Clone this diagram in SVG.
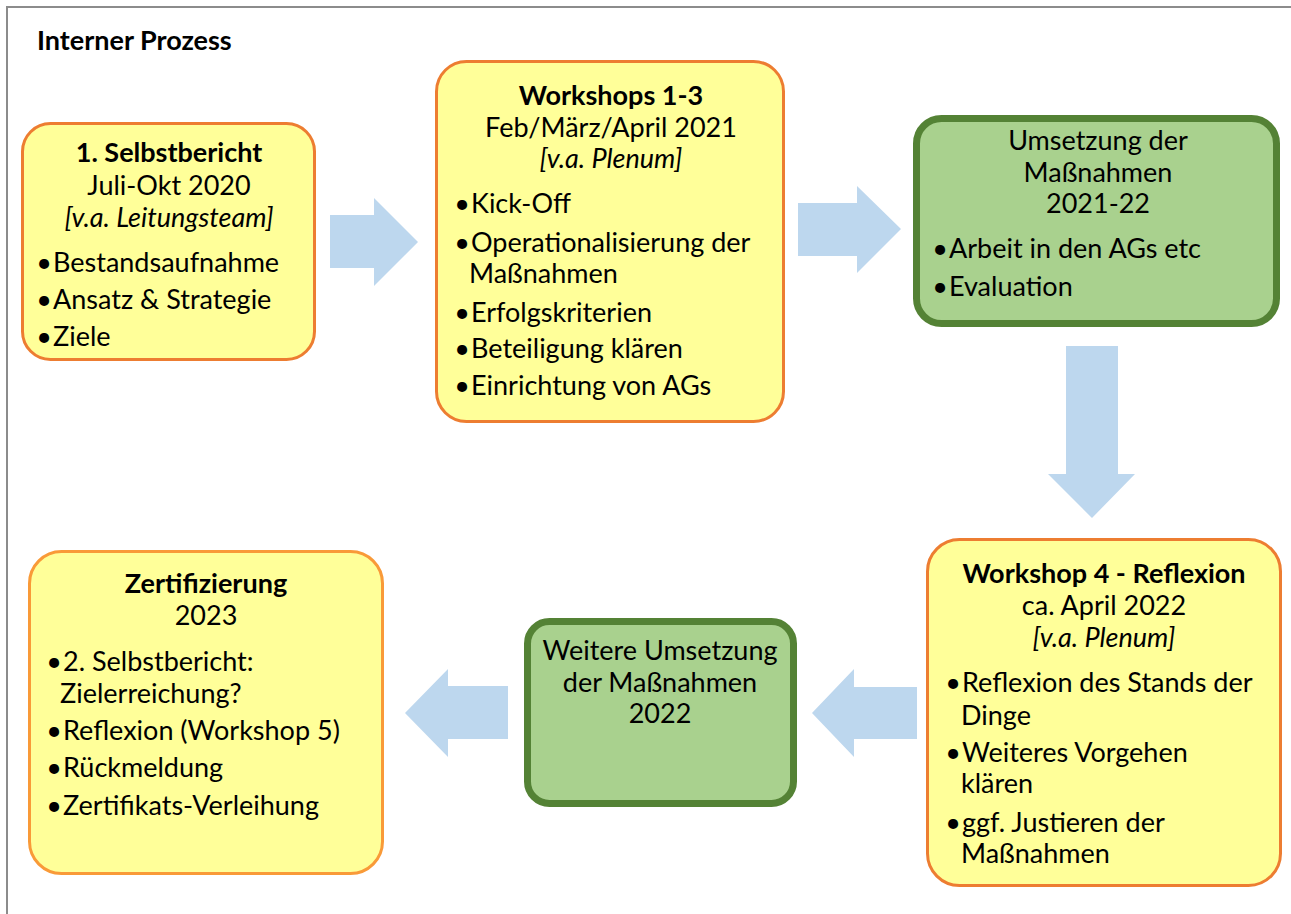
<svg xmlns="http://www.w3.org/2000/svg" width="1291" height="914" viewBox="0 0 1291 914">
<style>
text{font-family:"Lato","Liberation Sans",sans-serif;font-size:27px;fill:#000}
.b{font-weight:bold}
.i{font-style:italic}
.c{text-anchor:middle}
.d{text-anchor:end}
.y{fill:#FFFF99;stroke:#ED7D31;stroke-width:3}
.y2{fill:#FFFF99;stroke:#F99A38;stroke-width:3}
.g{fill:#A9D18E;stroke:#548235;stroke-width:7}
.a{fill:#BDD7EE}
</style>
<rect width="1291" height="914" fill="#fff"/>
<path d="M7,914 V7 H1291" fill="none" stroke="#8C8C8C" stroke-width="2"/>
<text class="b" x="37" y="50">Interner Prozess</text>
<g id="connectors">
<polygon class="a" points="330,215 374,215 374,198 418,242 374,286 374,268 330,268"/>
<polygon class="a" points="798,203 857,203 857,186 901,229 857,273 857,256 798,256"/>
<polygon class="a" points="1066,346 1118,346 1118,474 1135,474 1092,518 1048,474 1066,474"/>
<polygon class="a" points="917,687 854,687 854,669 812,713 854,757 854,739 917,739"/>
<polygon class="a" points="508,686 448,686 448,669 405,713 448,757 448,739 508,739"/>
</g>
<g id="selbstbericht">
<rect class="y" x="22.5" y="123.5" width="292" height="236" rx="28"/>
<text class="b c" x="169" y="162">1. Selbstbericht</text>
<text class="c" x="169" y="195">Juli-Okt 2020</text>
<text class="i c" x="169" y="227">[v.a. Leitungsteam]</text>
<text class="d" x="52" y="272">•</text><text x="53" y="272">Bestandsaufnahme</text>
<text class="d" x="52" y="309">•</text><text x="53" y="309">Ansatz &amp; Strategie</text>
<text class="d" x="52" y="346">•</text><text x="53" y="346">Ziele</text>
</g>
<g id="workshops13">
<rect class="y" x="436.5" y="61.5" width="347" height="360" rx="30"/>
<text class="b c" x="611" y="105">Workshops 1-3</text>
<text class="c" x="611" y="137">Feb/März/April 2021</text>
<text class="i c" x="611" y="168">[v.a. Plenum]</text>
<text class="d" x="470" y="213">•</text><text x="471" y="213">Kick-Off</text>
<text class="d" x="470" y="252">•</text><text x="471" y="252">Operationalisierung der</text>
<text x="469" y="283">Maßnahmen</text>
<text class="d" x="470" y="322">•</text><text x="471" y="322">Erfolgskriterien</text>
<text class="d" x="470" y="358">•</text><text x="471" y="358">Beteiligung klären</text>
<text class="d" x="470" y="395">•</text><text x="471" y="395">Einrichtung von AGs</text>
</g>
<g id="umsetzung">
<rect class="g" x="916.5" y="118.5" width="360" height="205" rx="25"/>
<text class="c" x="1098" y="150">Umsetzung der</text>
<text class="c" x="1098" y="182">Maßnahmen</text>
<text class="c" x="1098" y="213">2021-22</text>
<text class="d" x="948" y="258">•</text><text x="949" y="258">Arbeit in den AGs etc</text>
<text class="d" x="948" y="296">•</text><text x="949" y="296">Evaluation</text>
</g>
<g id="workshop4">
<rect class="y" x="927.5" y="539.5" width="353" height="346" rx="32"/>
<text class="b c" x="1104" y="583">Workshop 4 - Reflexion</text>
<text class="c" x="1104" y="615">ca. April 2022</text>
<text class="i c" x="1104" y="647">[v.a. Plenum]</text>
<text class="d" x="961" y="692">•</text><text x="962" y="692">Reflexion des Stands der</text>
<text x="961" y="725">Dinge</text>
<text class="d" x="961" y="762">•</text><text x="962" y="762">Weiteres Vorgehen</text>
<text x="961" y="793">klären</text>
<text class="d" x="961" y="832">•</text><text x="962" y="832">ggf. Justieren der</text>
<text x="961" y="863">Maßnahmen</text>
</g>
<g id="weitere">
<rect class="g" x="527.5" y="621.5" width="266" height="182" rx="22"/>
<text class="c" x="660" y="660">Weitere Umsetzung</text>
<text class="c" x="660" y="692">der Maßnahmen</text>
<text class="c" x="660" y="723">2022</text>
</g>
<g id="zertifizierung">
<rect class="y2" x="29.5" y="551.5" width="353" height="322" rx="32"/>
<text class="b c" x="206" y="593">Zertifizierung</text>
<text class="c" x="206" y="625">2023</text>
<text class="d" x="62" y="671">•</text><text x="63" y="671">2. Selbstbericht:</text>
<text x="60" y="703">Zielerreichung?</text>
<text class="d" x="62" y="740">•</text><text x="63" y="740">Reflexion (Workshop 5)</text>
<text class="d" x="62" y="777">•</text><text x="63" y="777">Rückmeldung</text>
<text class="d" x="62" y="815">•</text><text x="63" y="815">Zertifikats-Verleihung</text>
</g>
</svg>
